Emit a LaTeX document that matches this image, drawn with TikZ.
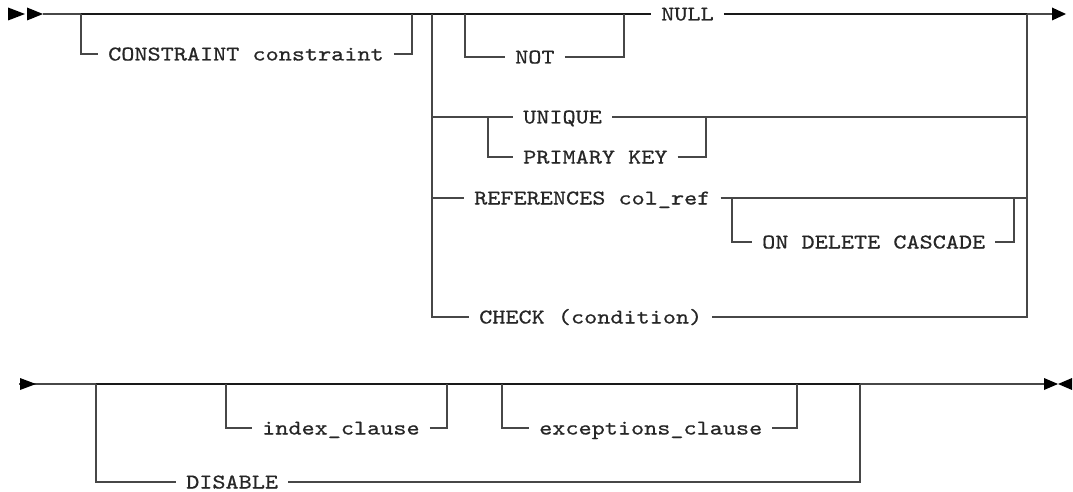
\documentclass[tikz,border=0pt]{standalone}
\usepackage{fontspec}
\newfontfamily\rrfont{lmmono10-regular.otf}[FakeStretch=1.19, FakeBold=0.6]
\tikzset{
  txt/.style={anchor=west, inner xsep=10pt, inner ysep=0pt, text height=13pt, text depth=0pt,
    font=\rrfont\fontsize{21}{24}\selectfont, text=black!85},
  thin/.style={line width=1.25pt, draw=black!72},
  thick/.style={line width=1.9pt, draw=black!90},
  tip/.style={fill=black}
}
\begin{document}
\begin{tikzpicture}[x=1pt,y=-1pt]
\useasboundingbox (0,0) rectangle (1073,492);
% ---------- row 1 ----------
\fill[tip] (8,7.5) -- (25,14) -- (8,20.5) -- cycle;
\fill[tip] (27,7.5) -- (43,14) -- (27,20.5) -- cycle;
\coordinate (s1) at (43,14);
\coordinate (c1a) at (81,14);
\coordinate (c1b) at (412,14);
\coordinate (ch1a) at (432,14);
\coordinate (ch1b) at (1027,14);
\coordinate (n1a) at (465,14);
\coordinate (n1b) at (624,14);
\coordinate (e1) at (1052,14);
\coordinate (u1a) at (488,117);
\coordinate (u1b) at (706,117);
\coordinate (o1a) at (732,198);
\coordinate (o1b) at (1014,198);
\node[txt] (constraint) at (98,54) {CONSTRAINT constraint};
\node[txt] (not) at (505,57) {NOT};
\node[txt] (null) at (651,14) {NULL};
\node[txt] (unique) at (513,117) {UNIQUE};
\node[txt] (pkey) at (513,157) {PRIMARY KEY};
\node[txt] (refs) at (464,198) {REFERENCES col\_ref};
\node[txt] (odc) at (752,242) {ON DELETE CASCADE};
\node[txt] (check) at (469,317) {CHECK (condition)};
\fill[tip] (1052,7.5) -- (1066,14) -- (1052,20.5) -- cycle;
% main track
\draw[thin] (s1) -- (c1a);
\draw[thick] (c1a) -- (c1b) -- (ch1a) -- (n1a) -- (n1b) -- (null.west);
\draw[thick] (null.east) -- (ch1b);
\draw[thin] (ch1b) -- (e1);
% optional constraint
\draw[thin] (c1a) |- (constraint.west);
\draw[thin] (constraint.east) -| (c1b);
% optional NOT
\draw[thin] (n1a) |- (not.west);
\draw[thin] (not.east) -| (n1b);
% big choice verticals
\draw[thin] (ch1a) |- (check.west);
\draw[thin] (check.east) -| (ch1b);
% UNIQUE / PRIMARY KEY
\draw[thin] (ch1a |- u1a) -- (u1a) -- (unique.west);
\draw[thin] (u1a) |- (pkey.west);
\draw[thin] (unique.east) -- (u1b) -- (ch1b |- u1b);
\draw[thin] (pkey.east) -| (u1b);
% REFERENCES
\draw[thin] (ch1a |- refs) -- (refs.west);
\draw[thin] (refs.east) -- (o1a) -- (o1b) -- (ch1b |- o1b);
\draw[thin] (o1a) |- (odc.west);
\draw[thin] (odc.east) -| (o1b);
% ---------- row 2 ----------
\coordinate (s2) at (19,384);
\coordinate (d1a) at (96,384);
\coordinate (d1b) at (860,384);
\coordinate (i1a) at (226,384);
\coordinate (i1b) at (447,384);
\coordinate (x1a) at (502,384);
\coordinate (x1b) at (797,384);
\coordinate (e2) at (1044,384);
\node[txt] (idx) at (252,428) {index\_clause};
\node[txt] (exc) at (529,428) {exceptions\_clause};
\node[txt] (dis) at (176,482) {DISABLE};
\draw[thin] (s2) -- (d1a);
\fill[tip] (20,378) -- (36,384) -- (20,390) -- cycle;
\draw[thick] (d1a) -- (i1a) -- (i1b) -- (x1a) -- (x1b) -- (d1b);
\draw[thin] (d1b) -- (e2);
\draw[thin] (d1a) |- (dis.west);
\draw[thin] (dis.east) -| (d1b);
\draw[thin] (i1a) |- (idx.west);
\draw[thin] (idx.east) -| (i1b);
\draw[thin] (x1a) |- (exc.west);
\draw[thin] (exc.east) -| (x1b);
\fill[tip] (1044,378) -- (1058,384) -- (1044,390) -- cycle;
\fill[tip] (1072,378) -- (1058,384) -- (1072,390) -- cycle;
\end{tikzpicture}
\end{document}
